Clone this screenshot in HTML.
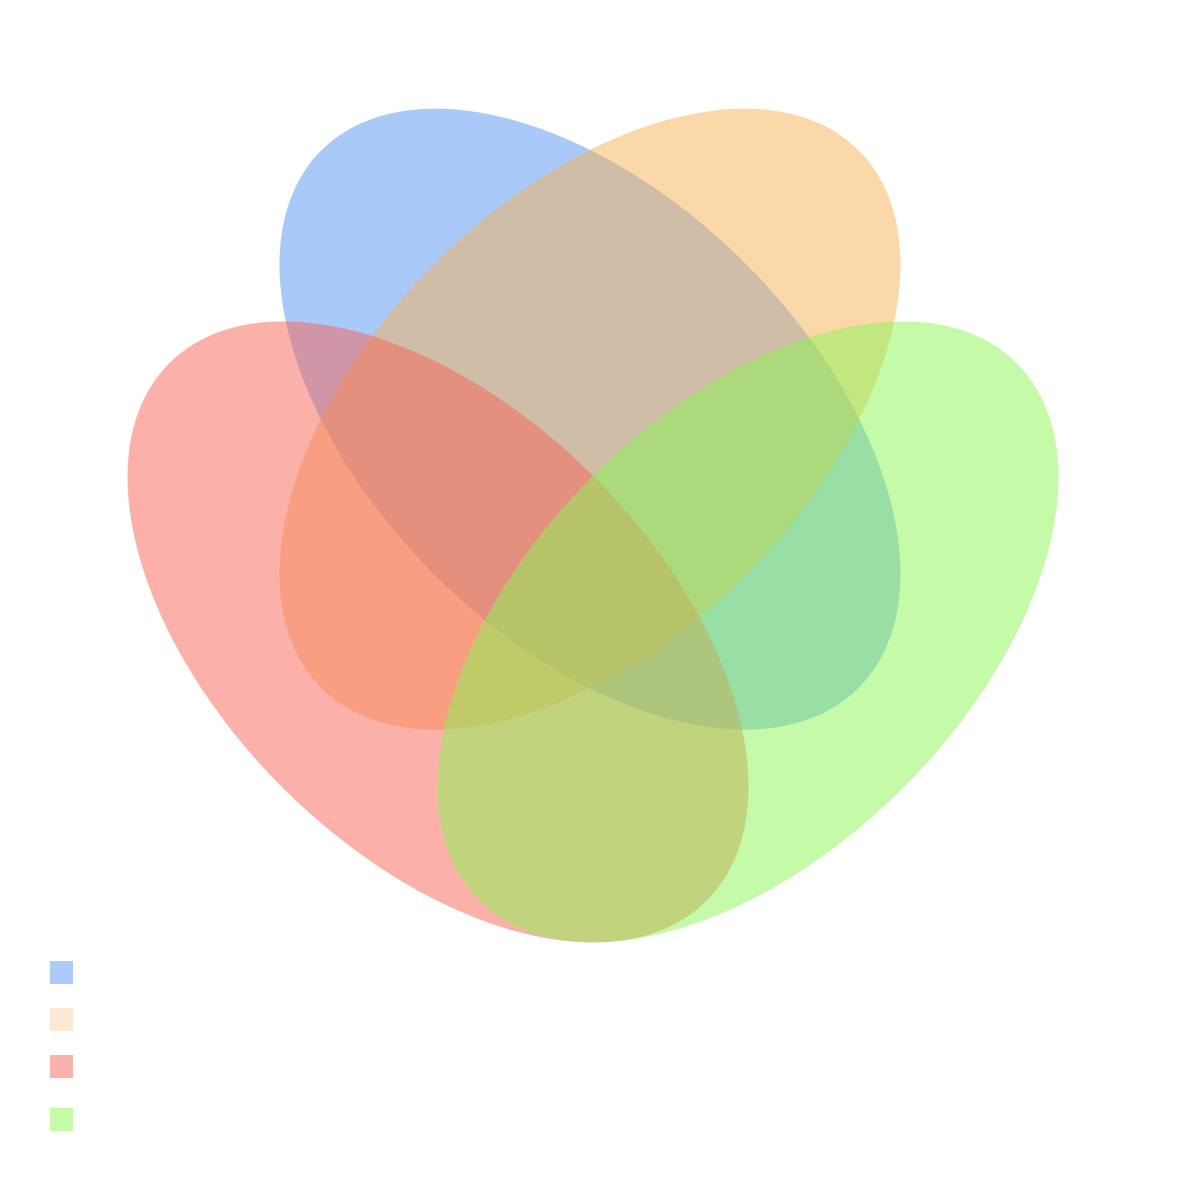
<!DOCTYPE html>
<html><head><meta charset="utf-8"><style>html,body{margin:0;padding:0;background:#fff}svg{display:block}</style></head>
<body>
<svg id="chart" width="1181" height="1181" viewBox="0 0 1181 1181" xmlns="http://www.w3.org/2000/svg">
<rect width="1181" height="1181" fill="#fff"/>
<g id="sets"></g>
<g id="legend"></g>
</svg>
<script>
const setNames = ["set-a","set-b","set-c","set-d"];
const centerX = [0.4383, 0.4383, 0.2941, 0.5882];
const centerY = [0.4454, 0.4454, 0.3022, 0.3022];
const angles = [45, -45, 45, -45];
const setColors = ["rgb(83,147,243)","rgb(245,177,85)","rgb(247,100,85)","rgb(138,245,82)"];
const legendColors = ["rgb(171,201,250)","rgb(252,234,215)","rgb(251,178,170)","rgb(197,250,168)"];
const legendY = [961, 1008, 1055, 1108];

const ns = "http://www.w3.org/2000/svg";
const sx = v => 128 + v * 1054;
const sy = v => 1081 - v * 1486;
const g = document.getElementById('sets');
setNames.forEach((n, i) => {
  const e = document.createElementNS(ns, 'ellipse');
  const cx = sx(centerX[i]), cy = sy(centerY[i]);
  e.setAttribute('cx', cx); e.setAttribute('cy', cy);
  e.setAttribute('rx', 380); e.setAttribute('ry', 220);
  e.setAttribute('transform', `rotate(${angles[i]} ${cx} ${cy})`);
  e.setAttribute('fill', setColors[i]); e.setAttribute('fill-opacity', 0.5);
  
  
  g.appendChild(e);
});
const lg = document.getElementById('legend');
legendY.forEach((y, i) => {
  const r = document.createElementNS(ns, 'rect');
  r.setAttribute('x', 50); r.setAttribute('y', y);
  r.setAttribute('width', 23); r.setAttribute('height', 23);
  r.setAttribute('fill', legendColors[i]);
  
  
  lg.appendChild(r);
});
</script>
</body></html>
